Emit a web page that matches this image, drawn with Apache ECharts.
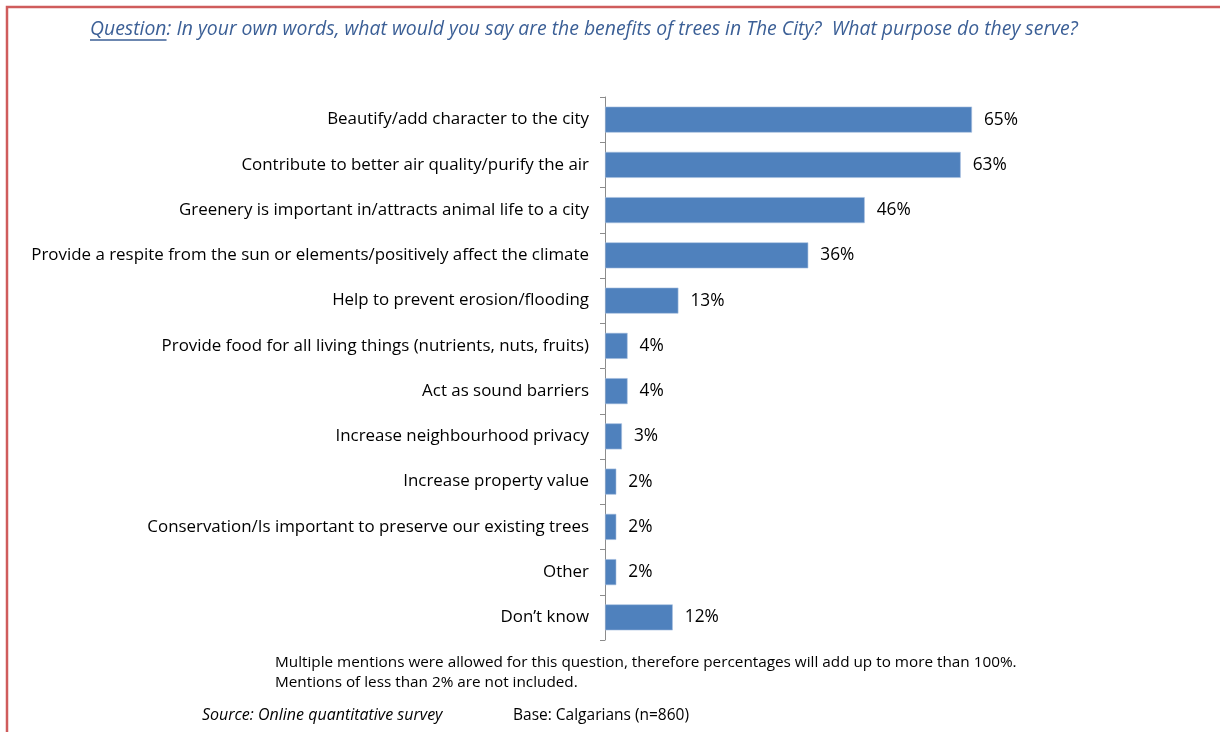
<!DOCTYPE html>
<html>
<head>
<meta charset="utf-8">
<script src="https://cdn.jsdelivr.net/npm/echarts@6/dist/echarts.min.js"></script>
<style>
  html, body { margin: 0; padding: 0; background: #ffffff; }
  #chart { width: 1220px; height: 732px; }
</style>
</head>
<body>
<div id="chart"></div>
<script>
// Survey responses: benefits of trees in The City (top to bottom)
const categories = [
  'Beautify/add character to the city',
  'Contribute to better air quality/purify the air',
  'Greenery is important in/attracts animal life to a city',
  'Provide a respite from the sun or elements/positively affect the climate',
  'Help to prevent erosion/flooding',
  'Provide food for all living things (nutrients, nuts, fruits)',
  'Act as sound barriers',
  'Increase neighbourhood privacy',
  'Increase property value',
  'Conservation/Is important to preserve our existing trees',
  'Other',
  'Don\u2019t know'
];
const percentages = [65, 63, 46, 36, 13, 4, 4, 3, 2, 2, 2, 12];

const questionLead = 'Question';
const questionText = ': In your own words, what would you say are the benefits of trees in The City?  What purpose do they serve?';
const noteLines = [
  'Multiple mentions were allowed for this question, therefore percentages will add up to more than 100%.',
  'Mentions of less than 2% are not included.'
];
const sourceText = 'Source: Online quantitative survey';
const baseText = 'Base: Calgarians (n=860)';

const FONT = '"Open Sans", Lato, sans-serif';
const TITLE_COLOR = '#3b5f96';
const TITLE_FONT = 'italic 19.4px ' + FONT;

const chart = echarts.init(document.getElementById('chart'), null, { renderer: 'canvas' });

// Measure the lead word so its underline spans exactly the word
const measureCtx = document.createElement('canvas').getContext('2d');
measureCtx.font = TITLE_FONT;
const leadWidth = measureCtx.measureText(questionLead).width;
const titleX = 90;

chart.setOption({
  animation: false,
  backgroundColor: '#ffffff',
  grid: { left: 605, top: 97, width: 564.6, height: 543, containLabel: false },
  xAxis: {
    type: 'value', min: 0, max: 100,
    show: false
  },
  yAxis: {
    type: 'category',
    inverse: true,
    data: categories,
    axisLine: { show: true, lineStyle: { color: '#8c8c8c', width: 1 } },
    axisTick: { show: true, length: 5, lineStyle: { color: '#8c8c8c' } },
    axisLabel: {
      margin: 16, color: '#000000', fontFamily: FONT, fontSize: 16.9,
      padding: [3, 0, 0, 0]
    }
  },
  series: [{
    type: 'bar',
    data: percentages,
    barWidth: 26,
    itemStyle: { color: '#4f81bd', borderColor: '#a7bfdf', borderWidth: 0.6 },
    label: {
      show: true, position: 'right', distance: 12,
      formatter: p => p.value + '%',
      color: '#000000', fontFamily: FONT, fontSize: 17.3,
      padding: [3, 0, 0, 0]
    }
  }],
  graphic: [
    // Page frame (top and left edges)
    { type: 'polyline', silent: true,
      shape: { points: [[7, 740], [7, 7], [1230, 7]] },
      style: { stroke: '#cf5c5c', lineWidth: 2.5, fill: null } },
    // Question heading
    { type: 'text', left: titleX, top: 19.5,
      style: { text: questionLead, font: TITLE_FONT, fill: TITLE_COLOR } },
    { type: 'line', silent: true,
      shape: { x1: titleX, y1: 40, x2: titleX + leadWidth, y2: 40 },
      style: { stroke: TITLE_COLOR, lineWidth: 1.3 } },
    { type: 'text', left: titleX + leadWidth, top: 19.5,
      style: { text: questionText, font: TITLE_FONT, fill: TITLE_COLOR } },
    // Notes
    { type: 'text', left: 275, top: 655,
      style: { text: noteLines[0], font: '15.3px ' + FONT, fill: '#000000' } },
    { type: 'text', left: 275, top: 675,
      style: { text: noteLines[1], font: '15.3px ' + FONT, fill: '#000000' } },
    { type: 'text', left: 202, top: 707,
      style: { text: sourceText, font: 'italic 16px ' + FONT, fill: '#000000' } },
    { type: 'text', left: 513, top: 707.5,
      style: { text: baseText, font: '15.5px ' + FONT, fill: '#000000' } }
  ]
});
</script>
</body>
</html>
